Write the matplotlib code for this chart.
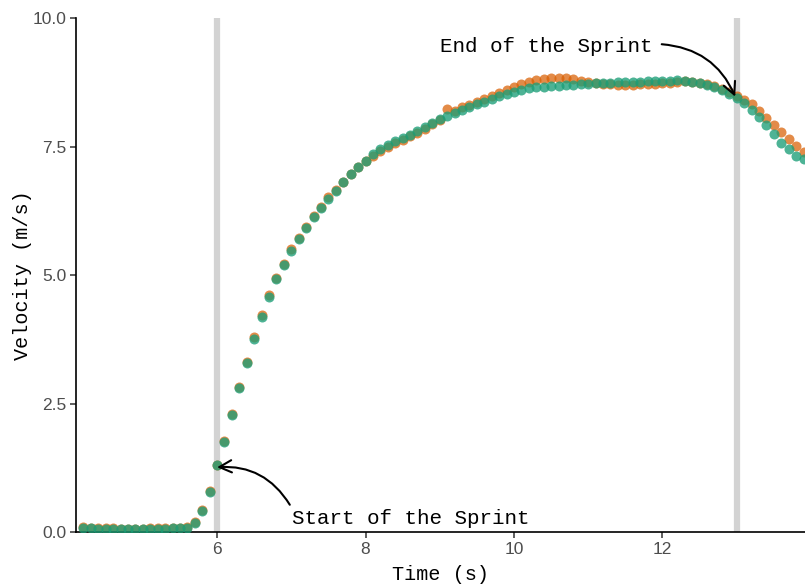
import matplotlib
matplotlib.use("Agg")
import matplotlib.pyplot as plt

# sample times (s), 10 Hz
time_s = [
    4.2, 4.3, 4.4, 4.5, 4.6, 4.7, 4.8, 4.9, 5.0, 5.1,
    5.2, 5.3, 5.4, 5.5, 5.6, 5.7, 5.8, 5.9, 6.0, 6.1,
    6.2, 6.3, 6.4, 6.5, 6.6, 6.7, 6.8, 6.9, 7.0, 7.1,
    7.2, 7.3, 7.4, 7.5, 7.6, 7.7, 7.8, 7.9, 8.0, 8.1,
    8.2, 8.3, 8.4, 8.5, 8.6, 8.7, 8.8, 8.9, 9.0, 9.1,
    9.2, 9.3, 9.4, 9.5, 9.6, 9.7, 9.8, 9.9, 10.0, 10.1,
    10.2, 10.3, 10.4, 10.5, 10.6, 10.7, 10.8, 10.9, 11.0, 11.1,
    11.2, 11.3, 11.4, 11.5, 11.6, 11.7, 11.8, 11.9, 12.0, 12.1,
    12.2, 12.3, 12.4, 12.5, 12.6, 12.7, 12.8, 12.9, 13.0, 13.1,
    13.2, 13.3, 13.4, 13.5, 13.6, 13.7, 13.8, 13.9,
]

# velocity from the first device (orange)
vel_a = [
    0.09, 0.08, 0.07, 0.07, 0.07, 0.06, 0.06, 0.06, 0.06, 0.07,
    0.07, 0.07, 0.08, 0.08, 0.09, 0.19, 0.42, 0.79, 1.31, 1.78,
    2.30, 2.82, 3.31, 3.80, 4.22, 4.61, 4.95, 5.22, 5.50, 5.72,
    5.94, 6.14, 6.32, 6.51, 6.66, 6.81, 6.97, 7.11, 7.21, 7.32,
    7.41, 7.49, 7.56, 7.63, 7.70, 7.77, 7.85, 7.94, 8.02, 8.23,
    8.19, 8.26, 8.31, 8.37, 8.42, 8.48, 8.54, 8.60, 8.66, 8.71,
    8.75, 8.79, 8.82, 8.84, 8.84, 8.83, 8.81, 8.78, 8.76, 8.74,
    8.72, 8.71, 8.70, 8.70, 8.70, 8.71, 8.71, 8.72, 8.73, 8.74,
    8.76, 8.77, 8.76, 8.74, 8.71, 8.67, 8.62, 8.56, 8.49, 8.41,
    8.32, 8.19, 8.05, 7.92, 7.79, 7.65, 7.51, 7.40,
]

# velocity from the second device (green)
vel_b = [
    0.08, 0.07, 0.06, 0.06, 0.06, 0.05, 0.05, 0.05, 0.05, 0.06,
    0.06, 0.06, 0.07, 0.07, 0.08, 0.18, 0.41, 0.78, 1.30, 1.76,
    2.28, 2.80, 3.29, 3.76, 4.19, 4.58, 4.92, 5.19, 5.47, 5.70,
    5.92, 6.13, 6.31, 6.48, 6.64, 6.80, 6.96, 7.10, 7.22, 7.35,
    7.45, 7.53, 7.60, 7.66, 7.73, 7.80, 7.88, 7.96, 8.04, 8.10,
    8.16, 8.22, 8.27, 8.32, 8.37, 8.42, 8.48, 8.53, 8.57, 8.60,
    8.63, 8.65, 8.66, 8.67, 8.68, 8.69, 8.70, 8.71, 8.72, 8.73,
    8.74, 8.74, 8.75, 8.75, 8.76, 8.76, 8.77, 8.77, 8.78, 8.78,
    8.79, 8.78, 8.76, 8.73, 8.70, 8.65, 8.60, 8.53, 8.45, 8.34,
    8.21, 8.07, 7.92, 7.75, 7.57, 7.45, 7.32, 7.25,
]

sprint_start = 6.0
sprint_end = 13.0

mono = ["Liberation Mono", "DejaVu Sans Mono"]
sans = ["Liberation Sans", "DejaVu Sans"]

fig = plt.figure(figsize=(8.05, 5.85), dpi=100)
ax = fig.add_axes([0.0944, 0.0906, 0.9056, 0.8786])

for x in (sprint_start, sprint_end):
    ax.axvline(x, color="#d3d3d3", linewidth=4.5, zorder=1)

ax.scatter(time_s, vel_a, s=52, color="#D95F02", alpha=0.72, linewidths=0, zorder=2)
ax.scatter(time_s, vel_b, s=52, color="#1B9E77", alpha=0.78, linewidths=0, zorder=3)

ax.set_xlim(4.1, 13.92)
ax.set_ylim(0, 10)
ax.set_xticks([6, 8, 10, 12])
ax.set_yticks([0, 2.5, 5.0, 7.5, 10.0])
ax.set_yticklabels(["0.0", "2.5", "5.0", "7.5", "10.0"])

for side in ("top", "right"):
    ax.spines[side].set_visible(False)
for side in ("left", "bottom"):
    ax.spines[side].set_linewidth(1.2)
    ax.spines[side].set_color("black")
ax.tick_params(length=4, width=1.1, color="#333333", labelcolor="#4d4d4d",
               labelsize=12.5, pad=3)
for lbl in ax.get_xticklabels() + ax.get_yticklabels():
    lbl.set_family(sans)

ax.set_xlabel("Time (s)", family=mono, fontsize=14.5, labelpad=6)
ax.set_ylabel("Velocity (m/s)", family=mono, fontsize=14.5, labelpad=0)

# annotations
ax.text(7.01, 0.27, "Start of the Sprint", family=mono, fontsize=15,
        ha="left", va="center")
ax.annotate("", xy=(sprint_start, 1.26), xytext=(6.98, 0.53),
            arrowprops=dict(arrowstyle="->", color="black", lw=1.5,
                            mutation_scale=22, shrinkA=0, shrinkB=0,
                            connectionstyle="arc3,rad=0.3"))

ax.text(9.0, 9.45, "End of the Sprint", family=mono, fontsize=15,
        ha="left", va="center")
ax.annotate("", xy=(12.98, 8.47), xytext=(11.99, 9.49),
            arrowprops=dict(arrowstyle="->", color="black", lw=1.5,
                            mutation_scale=22, shrinkA=0, shrinkB=0,
                            connectionstyle="arc3,rad=-0.3"))

fig.savefig("out.png", dpi=100)
